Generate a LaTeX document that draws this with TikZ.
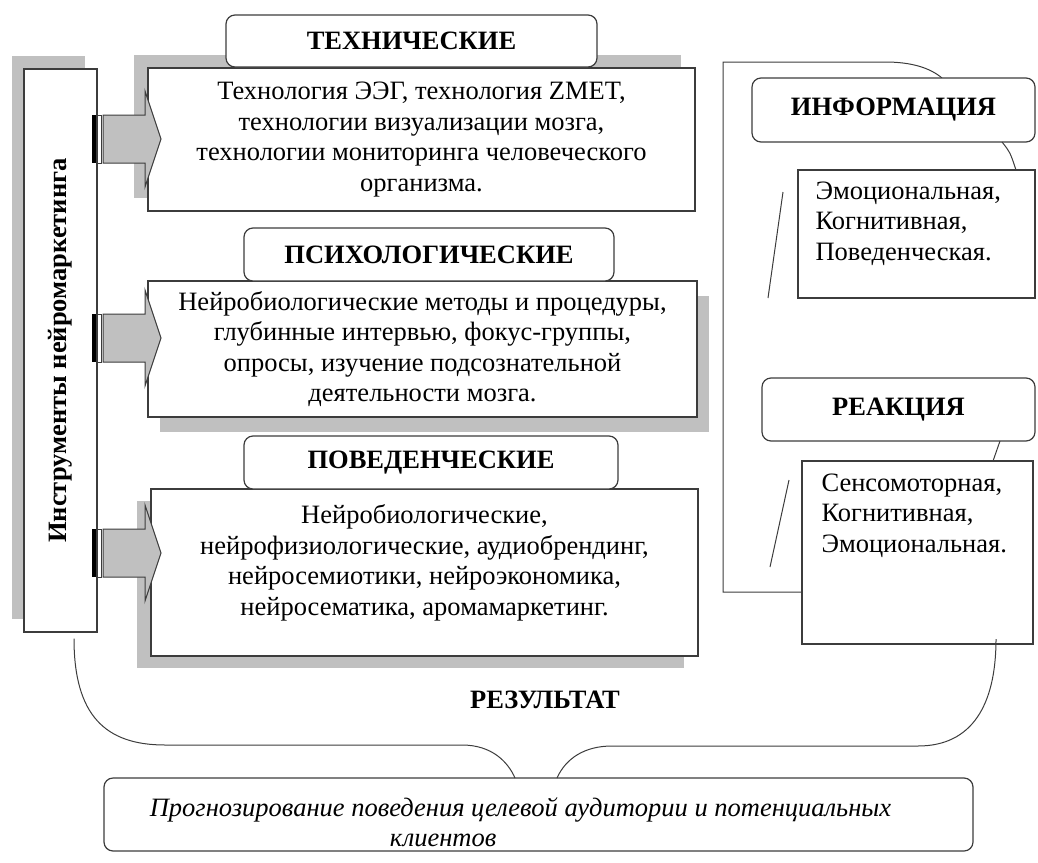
\documentclass[tikz,border=0pt]{standalone}
\usepackage{fontspec}
\setmainfont{Liberation Serif}[BoldFont={Liberation Serif Bold}, ItalicFont={Liberation Serif Italic}, BoldItalicFont={Liberation Serif Bold Italic}]
\usetikzlibrary{positioning,calc}
\definecolor{shadowgray}{RGB}{192,192,192}
\definecolor{edgegray}{RGB}{60,60,60}
\newcommand{\diagfont}{\fontsize{26.5}{30.5}\selectfont}

\tikzset{
  textbox/.style={draw=edgegray, line width=1.2pt, fill=white, rectangle, inner sep=0pt, align=center},
  headbox/.style={draw=edgegray, line width=1.2pt, fill=white, rectangle, rounded corners=9pt, inner sep=0pt, font=\diagfont\bfseries},
  shade/.style={fill=shadowgray},
  brace/.style={draw=edgegray, line width=1pt},
  blockarrow/.style={fill=shadowgray, draw=edgegray, line width=1pt},
}

\begin{document}
\begin{tikzpicture}[x=1pt, y=-1pt, font=\diagfont]
    \useasboundingbox (0,0) rectangle (1038,862);

    % shadows
    \fill[shade] (12,56) rectangle (85,619);
    \fill[shade] (134,55) rectangle (681,198);
    \fill[shade] (160,296) rectangle (709,432);
    \fill[shade] (137,501) rectangle (684,668);

    % left column
    \node (tools) [textbox, minimum width=73pt, minimum height=563pt] at (60.5,350.5) {};
    \node (toolslabel) [rotate=90, font=\diagfont\bfseries] at (tools.center) {Инструменты нейромаркетинга};

    % right bracket
    \draw[brace] (942,78) .. controls (930,68) and (912,62) .. (885,62) -- (723,62) -- (723,592) -- (802,592);

    % groups of tools
    \node (techbox) [textbox, minimum width=547pt, minimum height=143pt] at (421.5,139.5)
        {Технология ЭЭГ, технология ZMET,\\ технологии визуализации мозга,\\ технологии мониторинга человеческого\\ организма.};
    \node (tech) [headbox, minimum width=371pt, minimum height=52pt] at (411.5,41) {ТЕХНИЧЕСКИЕ};

    \node (psybox) [textbox, minimum width=549pt, minimum height=136pt] at (422.5,349)
        {Нейробиологические методы и процедуры,\\ глубинные интервью, фокус-группы,\\ опросы, изучение подсознательной\\ деятельности мозга.};
    \node (psy) [headbox, minimum width=370pt, minimum height=53pt] at (429,254.5) {ПСИХОЛОГИЧЕСКИЕ};

    \node (behbox) [textbox, minimum width=547pt, minimum height=167pt] at (424.5,572.5) {};
    \node (behtext) [align=center] at (424.5,563)
        {Нейробиологические,\\ нейрофизиологические, аудиобрендинг,\\ нейросемиотики, нейроэкономика,\\ нейросематика, аромамаркетинг.};
    \node (beh) [headbox, minimum width=374pt, minimum height=53pt] at (431,462.5) {ПОВЕДЕНЧЕСКИЕ};

    % arrows from the column
    \foreach \ay in {139,338,553} {
        \filldraw[blockarrow] (103,{\ay-24}) -- (145,{\ay-24}) -- (145,{\ay-48}) -- (161,\ay)
            -- (145,{\ay+48}) -- (145,{\ay+24}) -- (103,{\ay+24}) -- cycle;
        \fill[black] (92,{\ay-24}) rectangle (96,{\ay+24});
        \draw[edgegray, fill=white, line width=0.8pt] (97.5,{\ay-24}) rectangle (101.5,{\ay+24});
    }

    % information / reaction
    \node (info) [headbox, minimum width=283pt, minimum height=64pt] at (893.5,110) {ИНФОРМАЦИЯ};
    \node (infobox) [textbox, minimum width=237pt, minimum height=128pt] at (916.5,234) {};
    \node (infotext) [anchor=north west, align=left] at (812,178) {Эмоциональная,\\ Когнитивная,\\ Поведенческая.};
    \draw[brace] (1002,142) .. controls (1010,152) .. (1016,170);
    \draw[brace] (783,192) -- (768,298);

    \node (react) [headbox, minimum width=273pt, minimum height=63pt] at (898.5,409.5) {РЕАКЦИЯ};
    \node (reactbox) [textbox, minimum width=231pt, minimum height=183pt] at (917.5,552.5) {};
    \node (reacttext) [anchor=north west, align=left] at (818,470) {Сенсомоторная,\\ Когнитивная,\\ Эмоциональная.};
    \draw[brace] (1000,441) -- (993,461);
    \draw[brace] (789,480) -- (770,567);

    % result
    \node (result) [font=\diagfont\bfseries] at (545,700) {РЕЗУЛЬТАТ};
    \node (forecast) [headbox, minimum width=869pt, minimum height=73pt] at (538.5,814.5) {};
    \node (forecasttext) [font=\diagfont\itshape, align=left, inner sep=0pt] at (520.5,822)
        {Прогнозирование поведения целевой аудитории и потенциальных\\ \hspace*{240pt}клиентов};

    \draw[brace] ([xshift=13.5pt, yshift=-6pt]tools.south) .. controls (74,715) and (105,745) .. (165,745)
        -- (462,745) .. controls (492,745) and (508,762) .. (515,778);
    \draw[brace] (557,778) .. controls (566,758) and (585,746) .. (612,746)
        -- (918,746) .. controls (972,746) and (996,705) .. (996,639);
\end{tikzpicture}
\end{document}
